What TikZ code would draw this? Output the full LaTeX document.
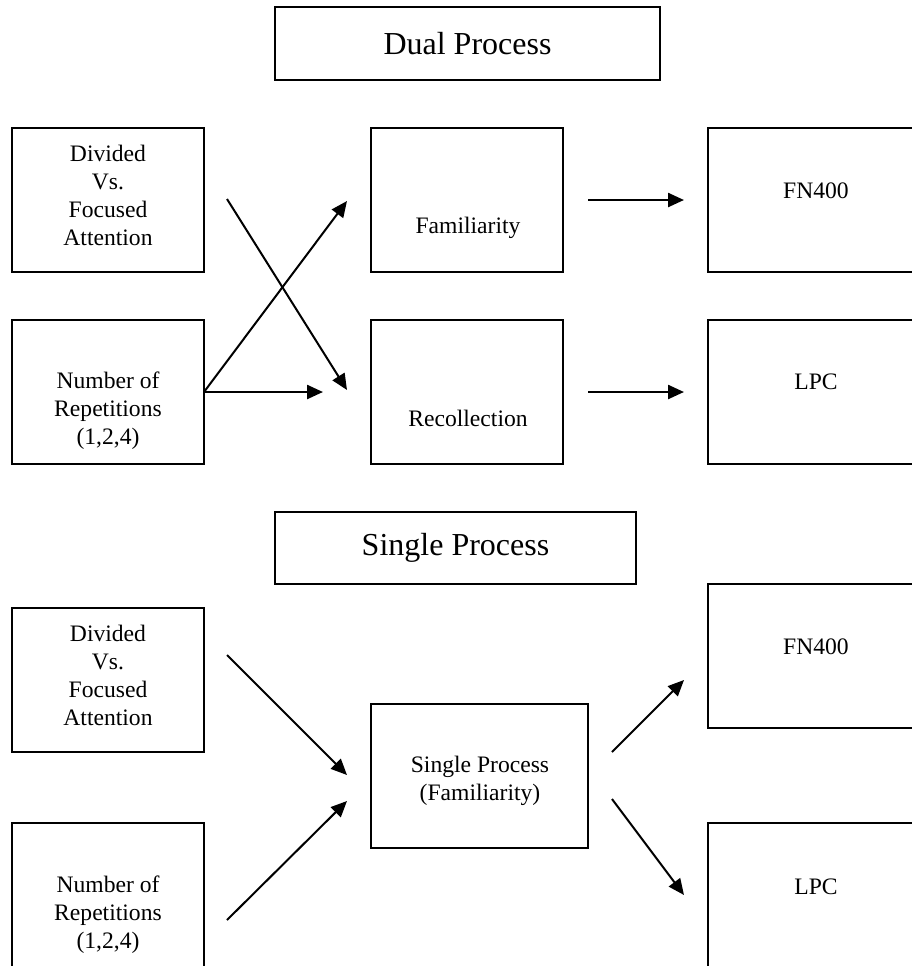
\documentclass[tikz,border=0pt]{standalone}
\usepackage{fontspec}
\setmainfont{Liberation Serif}
\usetikzlibrary{arrows.meta}

\begin{document}
\begin{tikzpicture}[x=0.5pt,y=-0.5pt,
  box/.style={draw,line width=1pt,minimum width=96pt,minimum height=72pt,inner sep=0pt,outer sep=0pt},
  txt/.style={align=center,inner sep=0pt,font=\fontsize{11.8}{14}\selectfont},
  title/.style={draw,line width=1pt,inner sep=0pt,font=\fontsize{16}{19}\selectfont},
  arr/.style={-{Triangle[length=8pt,width=7pt]},line width=1pt}]
\useasboundingbox (0,0) rectangle (912,966);
\clip (0,0) rectangle (912,966);
% dual process
\node[title,minimum width=192.5pt,minimum height=36.5pt] (dual) at (467.5,43.5) {Dual Process};
\node[box] (div) at (108,200) {};
\node[box] (num) at (108,392) {};
\node[box] (fam) at (467,200) {};
\node[box] (rec) at (467,392) {};
\node[box,minimum width=108pt] (fn) at (816,200) {};
\node[box,minimum width=108pt] (lpc) at (816,392) {};
\node[txt] (divtxt) at (108,195) {Divided\\Vs.\\Focused\\Attention};
\node[txt] (numtxt) at (108,411) {Number of\\Repetitions\\(1,2,4)};
\node[txt] (famtxt) at (468,228) {Familiarity};
\node[txt] (rectxt) at (468,418) {Recollection};
\node[txt] (fntxt) at (816,191) {FN400};
\node[txt] (lpctxt) at (816,382) {LPC};
\coordinate (famin) at (347,201); \coordinate (recin) at (347,390);
\coordinate (recin2) at (323,392); \coordinate (divout) at (227,199);
\coordinate (famout) at (588,200); \coordinate (fnin) at (684,200);
\coordinate (recout) at (588,392); \coordinate (lpcin) at (684,392);
\draw[arr] (num.east) -- (famin);
\draw[arr,line width=1.2pt] (num.east) -- (recin2);
\draw[arr] (divout) -- (recin);
\draw[arr,line width=1.2pt] (famout) -- (fnin);
\draw[arr,line width=1.2pt] (recout) -- (lpcin);
% single process
\node[title,minimum width=180.5pt,minimum height=36pt] (single) at (455.5,548) {Single Process};
\node[box] (div2) at (108,680) {};
\node[box,minimum height=75pt] (num2) at (108,898) {};
\node[box,minimum width=108.5pt] (sp) at (479.5,776) {};
\node[box,minimum width=108pt] (fn2) at (816,656) {};
\node[box,minimum width=108pt,minimum height=75pt] (lpc2) at (816,898) {};
\node[txt] (divtxt2) at (108,675) {Divided\\Vs.\\Focused\\Attention};
\node[txt] (numtxt2) at (108,915) {Number of\\Repetitions\\(1,2,4)};
\node[txt] (sptxt) at (480,781) {Single Process\\(Familiarity)};
\node[txt] (fntxt2) at (816,647) {FN400};
\node[txt] (lpctxt2) at (816,887) {LPC};
\coordinate (divout2) at (227,655); \coordinate (spin1) at (347,775);
\coordinate (numout2) at (227,920); \coordinate (spin2) at (347,801);
\coordinate (spout1) at (612,752); \coordinate (fnin2) at (684,680);
\coordinate (spout2) at (612,799); \coordinate (lpcin2) at (684,895);
\draw[arr] (divout2) -- (spin1);
\draw[arr] (numout2) -- (spin2);
\draw[arr] (spout1) -- (fnin2);
\draw[arr] (spout2) -- (lpcin2);
\end{tikzpicture}
\end{document}
